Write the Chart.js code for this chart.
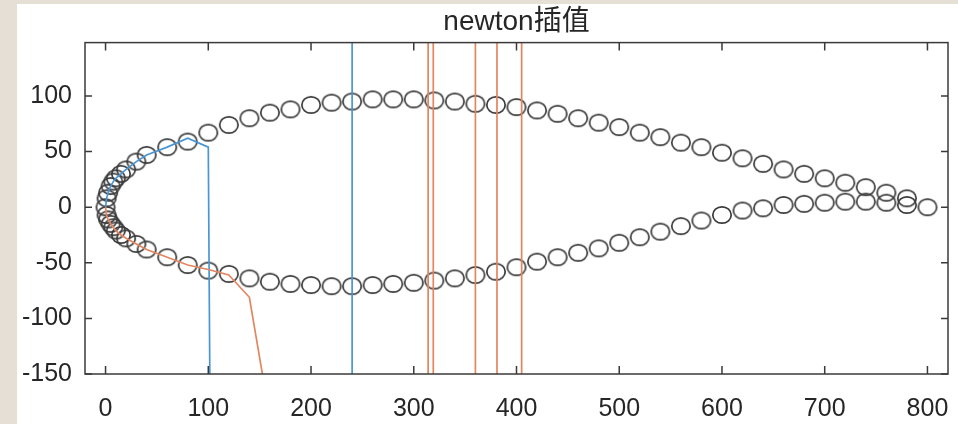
<!DOCTYPE html>
<html>
<head>
<meta charset="utf-8">
<script src="https://cdn.jsdelivr.net/npm/chart.js@4.4.1/dist/chart.umd.min.js"></script>
<style>
    body { margin: 0; background: #e5dfd5; width: 958px; height: 424px; overflow: hidden; }
    #wrap { position: absolute; left: 17px; top: 4px; width: 941px; height: 420px; background: #fff; }
</style>
</head>
<body>
<div id="wrap"><canvas id="newtonChart"></canvas></div>
<script>
// sampled airfoil points (circles)
const upperX = [0, 1, 2.5, 5, 7.5, 10, 15, 20, 30, 40, 60,
    80, 100, 120, 140, 160, 180, 200, 220, 240, 260, 280, 300, 320, 340, 360, 380, 400,
    420, 440, 460, 480, 500, 520, 540, 560, 580, 600, 620, 640, 660, 680, 700, 720, 740, 760, 780, 800];
const upperY = [0, 8, 13, 19, 23, 26, 30, 34, 41, 47, 54,
    59, 67, 74, 80, 85, 88, 92, 94, 95, 97, 97, 97, 96, 95, 93, 92, 90,
    87, 84, 80, 76, 72, 67, 63, 58, 54, 49, 44, 39, 34, 30, 26, 22, 18, 13, 8, 0];
const lowerX = [1, 2.5, 5, 7.5, 10, 15, 20, 30, 40, 60,
    80, 100, 120, 140, 160, 180, 200, 220, 240, 260, 280, 300, 320, 340, 360, 380, 400,
    420, 440, 460, 480, 500, 520, 540, 560, 580, 600, 620, 640, 660, 680, 700, 720, 740, 760, 780];
const lowerY = [-7, -11, -15, -18, -21, -25, -28, -33, -38, -45,
    -52, -57, -60, -64, -67, -69, -70, -71, -71, -70, -69, -68, -66, -64, -61, -58, -54,
    -49, -45, -41, -37, -32, -27, -22, -17, -12, -7, -3, -1, 2, 3, 4, 5, 5, 4, 2];

// newton interpolation curves (blow up off the chart)
const blueX = [0, 1, 2.5, 5, 7.5, 10, 15, 20, 30, 40, 60, 80, 100, 120, 240, 240, 800];
const blueY = [0, 8, 13, 19, 23, 26, 30, 34, 41, 47, 54, 62, 54, -2700, -1e5, 1e5, 1e5];
const orangeX = [0, 1, 2.5, 5, 7.5, 10, 15, 20, 30, 40, 60, 80, 100, 120, 140, 160,
    314, 314, 319, 319, 360, 360, 381, 381, 405, 405, 800];
const orangeY = [0, -7, -11, -15, -18, -21, -25, -28, -33, -38, -45, -52, -56, -61, -81, -190,
    -1e5, 1e5, 1e5, -1e5, -1e5, 1e5, 1e5, -1e5, -1e5, 1e5, 1e5];

const xTicks = [0, 100, 200, 300, 400, 500, 600, 700, 800];
const yTicks = [-150, -100, -50, 0, 50, 100];
const titleText = 'newton插值';

const textColor = '#262626';
const axisColor = '#3a3a3a';
const fontFamily = "'Liberation Sans', Arial, 'Noto Sans CJK SC', sans-serif";

const pts = (xs, ys) => xs.map((x, i) => ({ x: x, y: ys[i] }));

function ringMarker() {
    const c = document.createElement('canvas');
    c.width = 22; c.height = 20;
    const g = c.getContext('2d');
    g.strokeStyle = '#3a3a3a';
    g.lineWidth = 1.7;
    g.beginPath();
    g.ellipse(11, 10, 9.2, 8.2, 0, 0, Math.PI * 2);
    g.stroke();
    return c;
}

// matlab style box with inward ticks
const boxTicks = {
    id: 'boxTicks',
    afterDraw(chart) {
        const { ctx, chartArea: a, scales: { x, y } } = chart;
        ctx.save();
        ctx.strokeStyle = axisColor;
        ctx.lineWidth = 1.5;
        ctx.strokeRect(a.left, a.top, a.right - a.left, a.bottom - a.top);
        ctx.beginPath();
        x.ticks.forEach(t => {
            const px = x.getPixelForValue(t.value);
            ctx.moveTo(px, a.bottom); ctx.lineTo(px, a.bottom - 8);
            ctx.moveTo(px, a.top); ctx.lineTo(px, a.top + 8);
        });
        y.ticks.forEach(t => {
            const py = y.getPixelForValue(t.value);
            ctx.moveTo(a.left, py); ctx.lineTo(a.left + 7, py);
            ctx.moveTo(a.right, py); ctx.lineTo(a.right - 7, py);
        });
        ctx.stroke();
        ctx.restore();
    }
};

const ring = ringMarker();

new Chart(document.getElementById('newtonChart'), {
    type: 'scatter',
    data: {
        datasets: [
            {
                data: pts(orangeX, orangeY),
                showLine: true,
                borderColor: '#e3865f',
                borderWidth: 1.7,
                pointRadius: 0,
                tension: 0
            },
            {
                data: pts(blueX, blueY),
                showLine: true,
                borderColor: '#4a96d4',
                borderWidth: 1.7,
                pointRadius: 0,
                tension: 0
            },
            {
                data: pts(upperX, upperY).concat(pts(lowerX, lowerY)),
                showLine: false,
                pointStyle: ring,
                pointRadius: 9
            }
        ]
    },
    options: {
        responsive: true,
        maintainAspectRatio: false,
        animation: false,
        devicePixelRatio: 1,
        layout: { padding: { left: 0, right: 10, top: 0, bottom: 0 } },
        plugins: {
            legend: { display: false },
            tooltip: { enabled: false },
            title: {
                display: true,
                fullSize: false,
                text: titleText,
                color: textColor,
                font: { family: fontFamily, size: 28, weight: 'normal', lineHeight: 1.2 },
                padding: { top: 1, bottom: 4 }
            }
        },
        scales: {
            x: {
                type: 'linear',
                min: -20,
                max: 820,
                grid: { display: false, drawTicks: false },
                border: { display: false },
                afterFit: s => { s.height = 50; s.paddingLeft = 0; s.paddingRight = 0; },
                afterBuildTicks: s => { s.ticks = xTicks.map(v => ({ value: v })); },
                ticks: {
                    includeBounds: false,
                    color: textColor,
                    padding: 20,
                    maxRotation: 0,
                    font: { family: fontFamily, size: 25 }
                }
            },
            y: {
                type: 'linear',
                min: -150,
                max: 148,
                grid: { display: false, drawTicks: false },
                border: { display: false },
                afterFit: s => { s.width = 68; s.paddingTop = 0; s.paddingBottom = 0; },
                afterBuildTicks: s => { s.ticks = yTicks.map(v => ({ value: v })); },
                ticks: {
                    includeBounds: false,
                    color: textColor,
                    padding: 13,
                    font: { family: fontFamily, size: 25 }
                }
            }
        }
    },
    plugins: [boxTicks]
});
</script>
</body>
</html>
